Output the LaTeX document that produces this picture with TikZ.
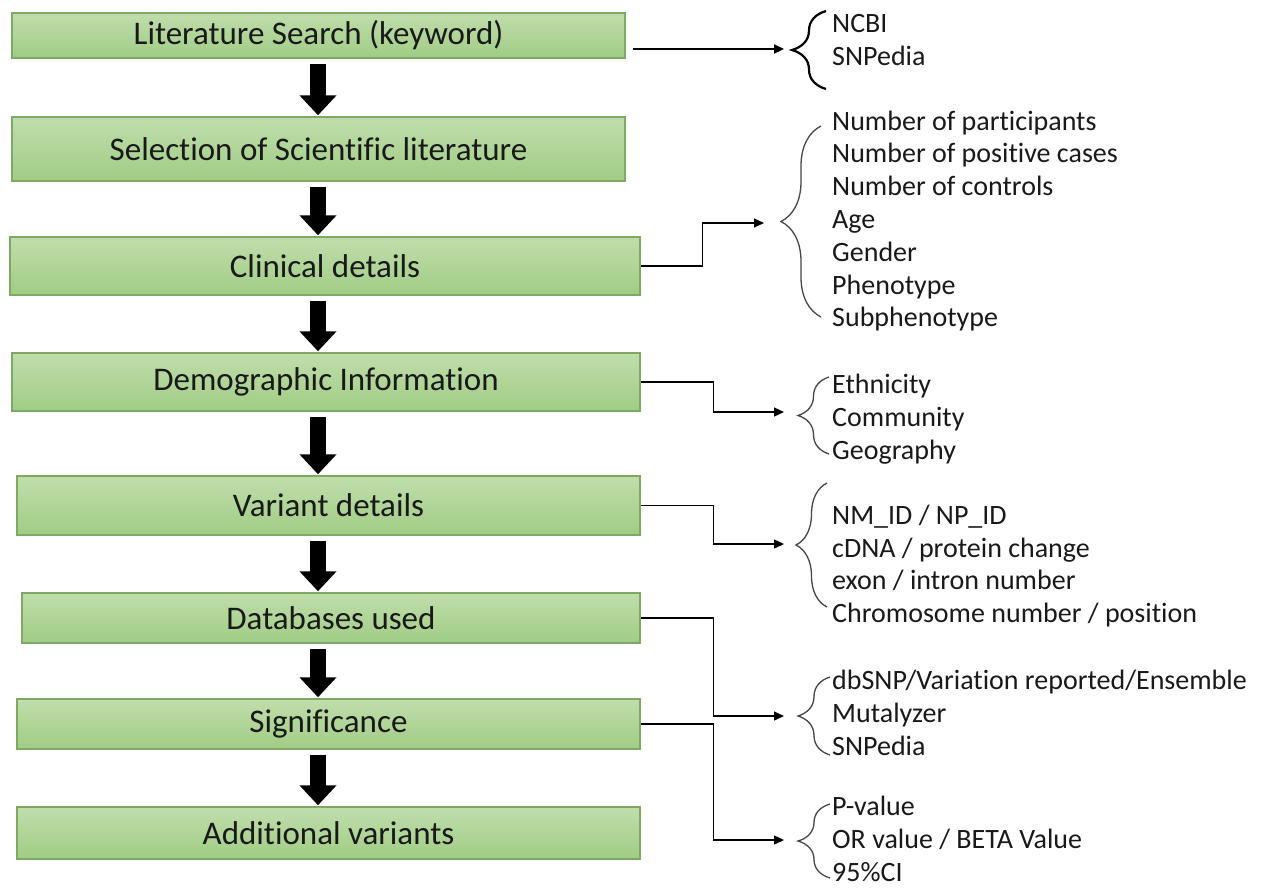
\documentclass[tikz,border=0pt]{standalone}
\usepackage{fontspec}
\setmainfont{Carlito}[Ligatures=NoCommon]
\usetikzlibrary{arrows.meta,decorations.pathreplacing}

\definecolor{boxtop}{RGB}{192,222,172}
\definecolor{boxbot}{RGB}{160,204,132}
\definecolor{boxedge}{RGB}{128,168,100}
\definecolor{bracegray}{RGB}{70,70,70}

\tikzset{
  stage/.style={draw=boxedge, line width=1.5pt, top color=boxtop,
    bottom color=boxbot, inner sep=0pt, text=black!90,
    font=\fontsize{33}{40}\selectfont},
  items/.style={anchor=west, align=left, inner sep=0pt, text=black!90,
    font=\fontsize{28}{32.8}\selectfont},
  bigarrow/.style={line width=16pt, -{Triangle[length=20pt,width=36pt]},
    shorten <=5pt, shorten >=1pt},
  link/.style={line width=1.3pt, -{Triangle[length=10pt,width=9pt]}},
  curly/.style={decorate, decoration={brace, amplitude=#1},
    line width=1.3pt, draw=bracegray},
}

\begin{document}
\begin{tikzpicture}[x=1pt, y=-1pt]
  % Page frame, white, same size as the original image
  \fill[white] (0,0) rectangle (1262,887);
  \useasboundingbox (0,0) rectangle (1262,887);

  % Workflow steps, top to bottom
  \node[stage, minimum width=613, minimum height=45] (search)
    at (318.5,35.5) {Literature Search (keyword)};
  \node[stage, minimum width=613, minimum height=64] (select)
    at (318.5,149) {Selection of Scientific literature};
  \node[stage, minimum width=630, minimum height=58] (clinical)
    at (325,266) {Clinical details};
  \node[stage, minimum width=628, minimum height=58] (demo)
    at (326,382) {Demographic Information};
  \node[stage, minimum width=623, minimum height=59] (variant)
    at (328.5,505.5) {Variant details};
  \node[stage, minimum width=618, minimum height=50] (dbase)
    at (331,618) {Databases used};
  \node[stage, minimum width=623, minimum height=50] (signif)
    at (328.5,724) {Significance};
  \node[stage, minimum width=623, minimum height=52] (addvar)
    at (328.5,833) {Additional variants};

  % Thick down arrows between the steps, all on one vertical line
  \coordinate (spine) at (318,0);
  \foreach \a/\b in {search/select, select/clinical, clinical/demo,
      demo/variant, variant/dbase, dbase/signif, signif/addvar} {
    \draw[bigarrow] (\a.south -| spine) -- (\b.north -| spine);
  }

  % Tips of the braces on the right
  \coordinate (ncbitip) at (792,49);
  \coordinate (clintip) at (781,223);
  \coordinate (demotip) at (798,412);
  \coordinate (vartip) at (796,544);
  \coordinate (dbtip) at (798,716);
  \coordinate (sigtip) at (798,840);

  % Braces
  \draw[curly=34pt, draw=black, line width=2.2pt] (826,89) -- (826,11);
  \draw[curly=40pt] (821,317) -- (821,126);
  \draw[curly=31pt] (829,454) -- (829,377);
  \draw[curly=31pt] (827,607) -- (827,483);
  \draw[curly=32pt] (830,755) -- (830,677);
  \draw[curly=32pt] (830,878) -- (830,804);

  % Detail lists
  \node[items] (srclist) at (832,40) {NCBI\\SNPedia};
  \node[items] (clinlist) at (832,221) {Number of participants\\
    Number of positive cases\\Number of controls\\Age\\Gender\\
    Phenotype\\Subphenotype};
  \node[items] (demolist) at (832,419) {Ethnicity\\Community\\Geography};
  \node[items] (varlist) at (832,566) {NM\_ID / NP\_ID\\
    cDNA / protein change\\exon / intron number\\
    Chromosome number / position};
  \node[items] (dblist) at (832,713) {dbSNP/Variation reported/Ensemble\\
    Mutalyzer\\SNPedia};
  \node[items] (siglist) at (832,839) {P-value\\OR value / BETA Value\\95\%CI};

  % Connectors from the steps to the braces
  \draw[link, line width=2.2pt, shorten >=8pt]
    ([xshift=7pt, yshift=-13.5pt]search.east) -- (ncbitip);
  \draw[link, shorten >=17pt] (clinical.east) -- ++(62,0) |- (clintip);
  \draw[link, shorten >=14pt] (demo.east) -- ++(73,0) |- (demotip);
  \draw[link, shorten >=12pt] (variant.east) -- ++(73,0) |- (vartip);
  \draw[link, shorten >=14pt] (dbase.east) -- ++(73,0) |- (dbtip);
  \draw[link, shorten >=14pt] (signif.east) -- ++(73,0) |- (sigtip);
\end{tikzpicture}
\end{document}
